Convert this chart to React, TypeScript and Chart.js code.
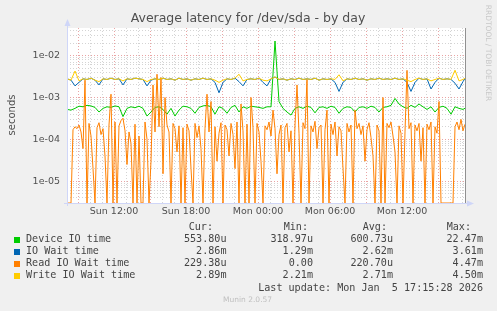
import React, { useEffect, useRef } from 'react';
import { Chart, registerables } from 'chart.js';
Chart.register(...registerables);

// minutes since Sun 00:00 (20-minute samples)
const times = [
  485, 505, 525, 545, 565, 585, 605, 625, 645, 665,
  685, 705, 725, 745, 765, 785, 805, 825, 845, 865,
  885, 905, 925, 945, 965, 985, 1005, 1025, 1045, 1065,
  1085, 1105, 1125, 1145, 1165, 1185, 1205, 1225, 1245, 1265,
  1285, 1305, 1325, 1345, 1365, 1385, 1405, 1425, 1445, 1465,
  1485, 1505, 1525, 1545, 1565, 1585, 1605, 1625, 1645, 1665,
  1685, 1705, 1725, 1745, 1765, 1785, 1805, 1825, 1845, 1865,
  1885, 1905, 1925, 1945, 1965, 1985, 2005, 2025, 2045, 2065,
  2085, 2105, 2125, 2145, 2165, 2185, 2205, 2225, 2245, 2265,
  2285, 2305, 2325, 2345, 2365, 2385, 2405, 2425, 2445, 2465,
  2475,
];

// minutes since Sun 00:00 (10-minute samples, read wait series)
const readTimes = [
  485, 495, 505, 515, 525, 535, 545, 555, 565, 575,
  585, 595, 605, 615, 625, 635, 645, 655, 665, 675,
  685, 695, 705, 715, 725, 735, 745, 755, 765, 775,
  785, 795, 805, 815, 825, 835, 845, 855, 865, 875,
  885, 895, 905, 915, 925, 935, 945, 955, 965, 975,
  985, 995, 1005, 1015, 1025, 1035, 1045, 1055, 1065, 1075,
  1085, 1095, 1105, 1115, 1125, 1135, 1145, 1155, 1165, 1175,
  1185, 1195, 1205, 1215, 1225, 1235, 1245, 1255, 1265, 1275,
  1285, 1295, 1305, 1315, 1325, 1335, 1345, 1355, 1365, 1375,
  1385, 1395, 1405, 1415, 1425, 1435, 1445, 1455, 1465, 1475,
  1485, 1495, 1505, 1515, 1525, 1535, 1545, 1555, 1565, 1575,
  1585, 1595, 1605, 1615, 1625, 1635, 1645, 1655, 1665, 1675,
  1685, 1695, 1705, 1715, 1725, 1735, 1745, 1755, 1765, 1775,
  1785, 1795, 1805, 1815, 1825, 1835, 1845, 1855, 1865, 1875,
  1885, 1895, 1905, 1915, 1925, 1935, 1945, 1955, 1965, 1975,
  1985, 1995, 2005, 2015, 2025, 2035, 2045, 2055, 2065, 2075,
  2085, 2095, 2105, 2115, 2125, 2135, 2145, 2155, 2165, 2175,
  2185, 2195, 2205, 2215, 2225, 2235, 2245, 2255, 2265, 2275,
  2285, 2295, 2305, 2315, 2325, 2335, 2345, 2355, 2365, 2375,
  2385, 2395, 2405, 2415, 2425, 2435, 2445, 2455, 2465, 2475,
];

const deviceIO = [
  5.2e-4, 5.0e-4, 5.5e-4, 6.2e-4, 6.0e-4, 6.5e-4, 6.3e-4, 5.8e-4, 4.5e-4, 5.5e-4,
  6.0e-4, 5.8e-4, 6.3e-4, 6.0e-4, 3.5e-4, 5.5e-4, 6.0e-4, 5.7e-4, 6.2e-4, 5.5e-4,
  3.6e-4, 4.5e-4, 5.8e-4, 6.0e-4, 5.2e-4, 4.0e-4, 5.5e-4, 3.6e-4, 5.0e-4, 6.2e-4,
  6.0e-4, 5.5e-4, 4.2e-4, 5.8e-4, 6.3e-4, 6.5e-4, 6.0e-4, 4.0e-4, 6.0e-4, 5.5e-4,
  4.2e-4, 5.8e-4, 6.5e-4, 4.5e-4, 6.0e-4, 5.5e-4, 6.2e-4, 6.0e-4, 5.8e-4, 5.5e-4,
  6.0e-4, 6.0e-4, 2.247e-2, 8.0e-4, 5.5e-4, 4.5e-4, 3.8e-4, 5.5e-4, 6.0e-4, 5.5e-4,
  6.2e-4, 5.8e-4, 4.3e-4, 5.8e-4, 6.0e-4, 5.5e-4, 6.2e-4, 5.8e-4, 4.2e-4, 5.5e-4,
  6.0e-4, 5.8e-4, 4.5e-4, 5.8e-4, 6.0e-4, 5.5e-4, 6.2e-4, 5.8e-4, 4.5e-4, 5.8e-4,
  6.0e-4, 6.5e-4, 9.5e-4, 7.0e-4, 6.0e-4, 5.5e-4, 6.5e-4, 5.8e-4, 7.0e-4, 6.0e-4,
  5.2e-4, 6.0e-4, 4.5e-4, 5.8e-4, 6.2e-4, 5.5e-4, 4.0e-4, 6.0e-4, 5.5e-4, 5.2e-4,
  5.538e-4,
];

const ioWait = [
  2.8e-3, 2.6e-3, 1.9e-3, 2.3e-3, 2.8e-3, 2.7e-3, 2.9e-3, 2.6e-3, 2.0e-3, 2.8e-3,
  2.7e-3, 2.9e-3, 2.7e-3, 2.8e-3, 2.0e-3, 2.8e-3, 2.7e-3, 2.9e-3, 2.8e-3, 2.7e-3,
  1.9e-3, 2.6e-3, 2.8e-3, 2.7e-3, 2.9e-3, 2.7e-3, 2.8e-3, 2.6e-3, 2.9e-3, 2.7e-3,
  2.8e-3, 2.6e-3, 2.8e-3, 2.7e-3, 2.9e-3, 2.7e-3, 2.8e-3, 2.3e-3, 1.3e-3, 2.3e-3,
  2.8e-3, 2.7e-3, 2.9e-3, 2.4e-3, 1.9e-3, 2.7e-3, 2.8e-3, 2.7e-3, 2.9e-3, 2.3e-3,
  1.9e-3, 2.8e-3, 3.1e-3, 2.7e-3, 2.8e-3, 2.6e-3, 2.8e-3, 2.7e-3, 2.9e-3, 2.7e-3,
  2.8e-3, 2.7e-3, 2.9e-3, 2.6e-3, 2.8e-3, 2.7e-3, 2.8e-3, 2.3e-3, 1.4e-3, 2.3e-3,
  2.8e-3, 2.7e-3, 2.9e-3, 2.7e-3, 2.8e-3, 2.6e-3, 2.8e-3, 2.7e-3, 2.9e-3, 2.7e-3,
  2.8e-3, 2.7e-3, 2.9e-3, 2.7e-3, 2.8e-3, 2.3e-3, 1.4e-3, 2.3e-3, 2.9e-3, 2.7e-3,
  2.8e-3, 1.6e-3, 2.3e-3, 2.9e-3, 2.7e-3, 2.8e-3, 2.7e-3, 2.2e-3, 1.6e-3, 2.4e-3,
  2.86e-3,
];

const readIO = [
  0, 0, 0, 1.7e-4, 2.0e-4, 1.8e-4, 2.2e-4, 1.5e-4, 6e-5, 2.6e-3,
  0, 2.4e-4, 1.2e-4, 2e-5, 0, 1.9e-4, 2.5e-4, 1.3e-4, 1.8e-4, 4e-5,
  0, 2.2e-4, 1.2e-3, 0, 2.6e-4, 0, 2.1e-4, 2.8e-4, 3.2e-4, 1.6e-4,
  2.5e-5, 1.5e-4, 8e-5, 0, 2.3e-4, 0, 1.2e-4, 0, 0, 2.6e-4,
  1e-4, 0, 3e-5, 2e-3, 1.5e-4, 3.6e-3, 2e-4, 3e-3, 1.5e-5, 1e-3,
  2.2e-4, 1.5e-4, 0, 2.4e-4, 1.8e-4, 5e-5, 2.1e-4, 0, 1.9e-4, 0,
  2.3e-4, 1.6e-4, 2e-5, 0, 2.4e-4, 1.1e-4, 2.1e-4, 6e-5, 0, 1.8e-4,
  1.2e-3, 1.5e-4, 8e-4, 0, 2e-4, 3e-5, 1.4e-4, 2.5e-4, 0, 2.2e-4,
  1.7e-4, 4e-5, 2.4e-4, 1.3e-4, 2e-5, 2.6e-4, 0, 7e-4, 1.6e-4, 0,
  2.3e-4, 0, 1e-3, 1.9e-4, 0, 2.4e-4, 1.5e-4, 3e-5, 0, 2.1e-4,
  1.7e-4, 2.6e-4, 1.2e-4, 5e-4, 1.8e-4, 1.5e-5, 1.3e-4, 2.2e-4, 0, 1.9e-4,
  2.4e-4, 5e-5, 1.6e-4, 0, 2.2e-4, 2e-3, 1.4e-4, 0, 2.5e-4, 1.8e-4,
  2.7e-3, 0, 2.1e-4, 1.5e-4, 2.7e-4, 6e-5, 1.9e-4, 2.2e-4, 0, 1.7e-4,
  5e-4, 0, 2.3e-4, 1.3e-4, 2.6e-4, 4e-5, 2e-4, 1.6e-4, 2e-5, 0,
  2.4e-4, 1.5e-4, 2.2e-4, 0, 5e-4, 1.8e-4, 2.4e-4, 1.3e-4, 2.1e-4, 3e-5,
  1.7e-4, 2.5e-4, 1.1e-4, 4e-5, 0, 2.2e-4, 1.6e-4, 0, 1e-3, 0,
  2.4e-4, 1.9e-4, 2.6e-4, 1.2e-4, 5e-5, 0, 2.1e-4, 1.4e-4, 0, 1.5e-4,
  4.47e-3, 1.8e-4, 2.5e-4, 0, 2.2e-4, 1.6e-4, 2.4e-4, 3e-5, 1.9e-4, 0,
  2.3e-4, 1.7e-4, 2.6e-4, 0, 2e-4, 1.4e-4, 8e-4, 0, 0, 0,
  0, 0, 0, 0, 2e-4, 2.6e-4, 1.7e-4, 3e-4, 1.6e-4, 2.294e-4,
];

const writeIO = [
  2.8e-3, 2.6e-3, 4.3e-3, 2.5e-3, 2.8e-3, 2.7e-3, 2.9e-3, 2.6e-3, 2.4e-3, 2.8e-3,
  2.7e-3, 2.9e-3, 2.7e-3, 2.8e-3, 2.5e-3, 2.8e-3, 2.7e-3, 2.9e-3, 2.8e-3, 2.7e-3,
  2.4e-3, 2.7e-3, 2.8e-3, 2.7e-3, 2.9e-3, 2.7e-3, 2.8e-3, 2.6e-3, 2.9e-3, 2.7e-3,
  2.8e-3, 2.6e-3, 2.8e-3, 2.7e-3, 2.9e-3, 2.7e-3, 2.8e-3, 2.6e-3, 2.3e-3, 2.6e-3,
  2.8e-3, 2.7e-3, 2.9e-3, 3.6e-3, 2.5e-3, 2.7e-3, 2.8e-3, 2.7e-3, 2.9e-3, 2.6e-3,
  2.5e-3, 2.8e-3, 3.1e-3, 2.7e-3, 2.8e-3, 2.6e-3, 2.8e-3, 2.7e-3, 2.9e-3, 2.7e-3,
  2.8e-3, 2.7e-3, 2.9e-3, 2.6e-3, 2.8e-3, 2.7e-3, 2.8e-3, 2.7e-3, 3.5e-3, 2.5e-3,
  2.8e-3, 2.7e-3, 2.9e-3, 2.7e-3, 2.8e-3, 2.6e-3, 2.8e-3, 2.7e-3, 2.9e-3, 2.7e-3,
  2.8e-3, 2.7e-3, 2.9e-3, 2.7e-3, 2.8e-3, 2.6e-3, 2.4e-3, 2.7e-3, 2.9e-3, 2.7e-3,
  2.8e-3, 2.5e-3, 2.7e-3, 2.9e-3, 2.7e-3, 2.8e-3, 2.7e-3, 4.5e-3, 2.5e-3, 2.7e-3,
  2.89e-3,
];

const xLabelMinutes = [720, 1080, 1440, 1800, 2160];
const xLabelTexts = ['Sun 12:00', 'Sun 18:00', 'Mon 00:00', 'Mon 06:00', 'Mon 12:00'];
const yDecades = [1e-5, 1e-4, 1e-3, 1e-2];
const yDecadeLabels = ['1e-05', '1e-04', '1e-03', '1e-02'];

const seriesNames = ['Device IO time', 'IO Wait time', 'Read IO Wait time', 'Write IO Wait time'];
const seriesColors = ['#00cc00', '#0066b3', '#ff8000', '#ffcc00'];
const curVals = ['553.80u', '2.86m', '229.38u', '2.89m'];
const minVals = ['318.97u', '1.29m', '0.00', '2.21m'];
const avgVals = ['600.73u', '2.62m', '220.70u', '2.71m'];
const maxVals = ['22.47m', '3.61m', '4.47m', '4.50m'];
const lastUpdate = 'Last update: Mon Jan  5 17:15:28 2026';
const titleText = 'Average latency for /dev/sda - by day';

const X_MIN = 485;
const X_MAX = 2475;
const Y_MIN = 3e-6;
const Y_MAX = 0.046;

export default function App() {
  const ref = useRef<HTMLCanvasElement | null>(null);

  useEffect(() => {
    const canvas = ref.current;
    if (!canvas) return;
    document.body.style.margin = '0';

    const series = [deviceIO, ioWait, readIO, writeIO];
    const seriesTimes = [times, times, readTimes, times];
    // a log axis cannot show 0: like rrdtool, zero samples sit on the bottom edge
    const datasets = series.map((vals, i) => ({
      label: seriesNames[i],
      data: vals.map((v, j) => ({ x: seriesTimes[i][j], y: v > 0 ? v : Y_MIN })),
      borderColor: seriesColors[i],
      backgroundColor: seriesColors[i],
      borderWidth: 1,
      pointRadius: 0,
      tension: 0,
      fill: false,
      order: 3 - i,
    }));

    const isDecade = (v: number) => yDecades.some((d) => Math.abs(v / d - 1) < 1e-6);
    const isMajorX = (v: number) => v % 180 === 0;

    const decor = {
      id: 'decor',
      beforeDraw(chart: any) {
        const { ctx, chartArea } = chart;
        ctx.save();
        ctx.fillStyle = '#f0f0f0';
        ctx.fillRect(0, 0, chart.width, chart.height);
        ctx.fillStyle = '#ffffff';
        ctx.fillRect(chartArea.left, chartArea.top, chartArea.right - chartArea.left, chartArea.bottom - chartArea.top);
        ctx.restore();
      },
      afterDraw(chart: any) {
        const { ctx, chartArea } = chart;
        const L = chartArea.left, R = chartArea.right, T = chartArea.top, B = chartArea.bottom;
        ctx.save();
        ctx.strokeStyle = '#909090';
        ctx.lineWidth = 1;
        ctx.beginPath();
        ctx.moveTo(R + 0.5, T);
        ctx.lineTo(R + 0.5, B);
        ctx.stroke();
        ctx.strokeStyle = '#cfd6f8';
        ctx.beginPath();
        ctx.moveTo(L + 0.5, B + 3);
        ctx.lineTo(L + 0.5, T - 6);
        ctx.moveTo(L - 3, B + 0.5);
        ctx.lineTo(R + 4, B + 0.5);
        ctx.stroke();
        ctx.fillStyle = '#cfd6f8';
        ctx.beginPath();
        ctx.moveTo(L + 0.5, T - 9);
        ctx.lineTo(L - 2.5, T - 2);
        ctx.lineTo(L + 3.5, T - 2);
        ctx.closePath();
        ctx.fill();
        ctx.beginPath();
        ctx.moveTo(R + 9, B + 0.5);
        ctx.lineTo(R + 2, B - 2.5);
        ctx.lineTo(R + 2, B + 3.5);
        ctx.closePath();
        ctx.fill();

        ctx.fillStyle = '#505050';
        ctx.font = "12.5px 'DejaVu Sans'";
        ctx.textAlign = 'center';
        ctx.textBaseline = 'middle';
        ctx.fillText(titleText, 248, 19);

        ctx.save();
        ctx.translate(12, 115);
        ctx.rotate(-Math.PI / 2);
        ctx.font = "10px 'DejaVu Sans'";
        ctx.fillStyle = '#505050';
        ctx.fillText('seconds', 0, 0);
        ctx.restore();

        ctx.save();
        ctx.translate(488, 53);
        ctx.rotate(Math.PI / 2);
        ctx.font = "7.5px 'DejaVu Sans'";
        ctx.fillStyle = '#c8c8c8';
        ctx.fillText('RRDTOOL / TOBI OETIKER', 0, 0);
        ctx.restore();

        ctx.font = "10.1px 'DejaVu Sans Mono'";
        ctx.textBaseline = 'middle';
        ctx.fillStyle = '#444444';
        ctx.textAlign = 'right';
        ctx.fillText('Cur:', 213, 227.5);
        ctx.fillText('Min:', 308, 227.5);
        ctx.fillText('Avg:', 387, 227.5);
        ctx.fillText('Max:', 471, 227.5);
        for (let i = 0; i < 4; i++) {
          const y = 239.5 + i * 12.1;
          ctx.fillStyle = seriesColors[i];
          ctx.fillRect(14, Math.round(y) - 3, 6, 6);
          ctx.fillStyle = '#444444';
          ctx.textAlign = 'left';
          ctx.fillText(seriesNames[i], 26, y);
          ctx.textAlign = 'right';
          ctx.fillText(curVals[i], 226.5, y);
          ctx.fillText(minVals[i], 313, y);
          ctx.fillText(avgVals[i], 393, y);
          ctx.fillText(maxVals[i], 483, y);
        }
        ctx.fillText(lastUpdate, 483, 288.5);

        ctx.font = "7.5px 'DejaVu Sans'";
        ctx.fillStyle = '#c0c0c0';
        ctx.textAlign = 'left';
        ctx.fillText('Munin 2.0.57', 223, 300);
        ctx.restore();
      },
    };

    const chart = new Chart(canvas, {
      type: 'line',
      data: { datasets },
      plugins: [decor],
      options: {
        animation: false,
        responsive: false,
        devicePixelRatio: 1,
        layout: { padding: { left: 0, top: 28, right: 32, bottom: 0 } },
        plugins: { legend: { display: false }, title: { display: false }, tooltip: { enabled: false } },
        scales: {
          x: {
            type: 'linear',
            min: X_MIN,
            max: X_MAX,
            afterBuildTicks: (scale: any) => {
              const t: any[] = [];
              for (let m = 540; m <= 2460; m += 60) t.push({ value: m });
              scale.ticks = t;
            },
            afterFit: (scale: any) => {
              scale.height = 108;
            },
            ticks: {
              autoSkip: false,
              maxRotation: 0,
              minRotation: 0,
              padding: 3,
              color: '#505050',
              font: { family: 'DejaVu Sans', size: 9.5 },
              callback: (v: any) => {
                const idx = xLabelMinutes.indexOf(Number(v));
                return idx >= 0 ? xLabelTexts[idx] : '';
              },
            },
            grid: {
              drawTicks: false,
              lineWidth: 1,
              color: (c: any) => (c.tick && isMajorX(c.tick.value) ? '#eaa4a4' : '#d4d4d4'),
            },
            border: { display: false, dash: [1, 2] },
          },
          y: {
            type: 'logarithmic',
            min: Y_MIN,
            max: Y_MAX,
            afterBuildTicks: (scale: any) => {
              const t: any[] = [];
              for (let e = -6; e <= -2; e++) {
                for (let k = 1; k <= 9; k++) {
                  const v = k * Math.pow(10, e);
                  if (v >= Y_MIN && v <= Y_MAX) t.push({ value: v });
                }
              }
              scale.ticks = t;
            },
            afterFit: (scale: any) => {
              scale.width = 67;
            },
            ticks: {
              autoSkip: false,
              padding: 7,
              color: '#505050',
              font: { family: 'DejaVu Sans', size: 9.5 },
              callback: (v: any) => {
                const n = Number(v);
                const idx = yDecades.findIndex((d) => Math.abs(n / d - 1) < 1e-6);
                return idx >= 0 ? yDecadeLabels[idx] : '';
              },
            },
            grid: {
              drawTicks: false,
              lineWidth: 1,
              color: (c: any) => (c.tick && isDecade(c.tick.value) ? '#eaa4a4' : '#d4d4d4'),
            },
            border: { display: false, dash: [1, 2] },
          },
        },
      },
    });
    return () => chart.destroy();
  }, []);

  return (
    <div style={{ position: 'absolute', left: 0, top: 0, width: 497, height: 311 }}>
      <canvas ref={ref} width={497} height={311} style={{ width: 497, height: 311, display: 'block' }} />
    </div>
  );
}
